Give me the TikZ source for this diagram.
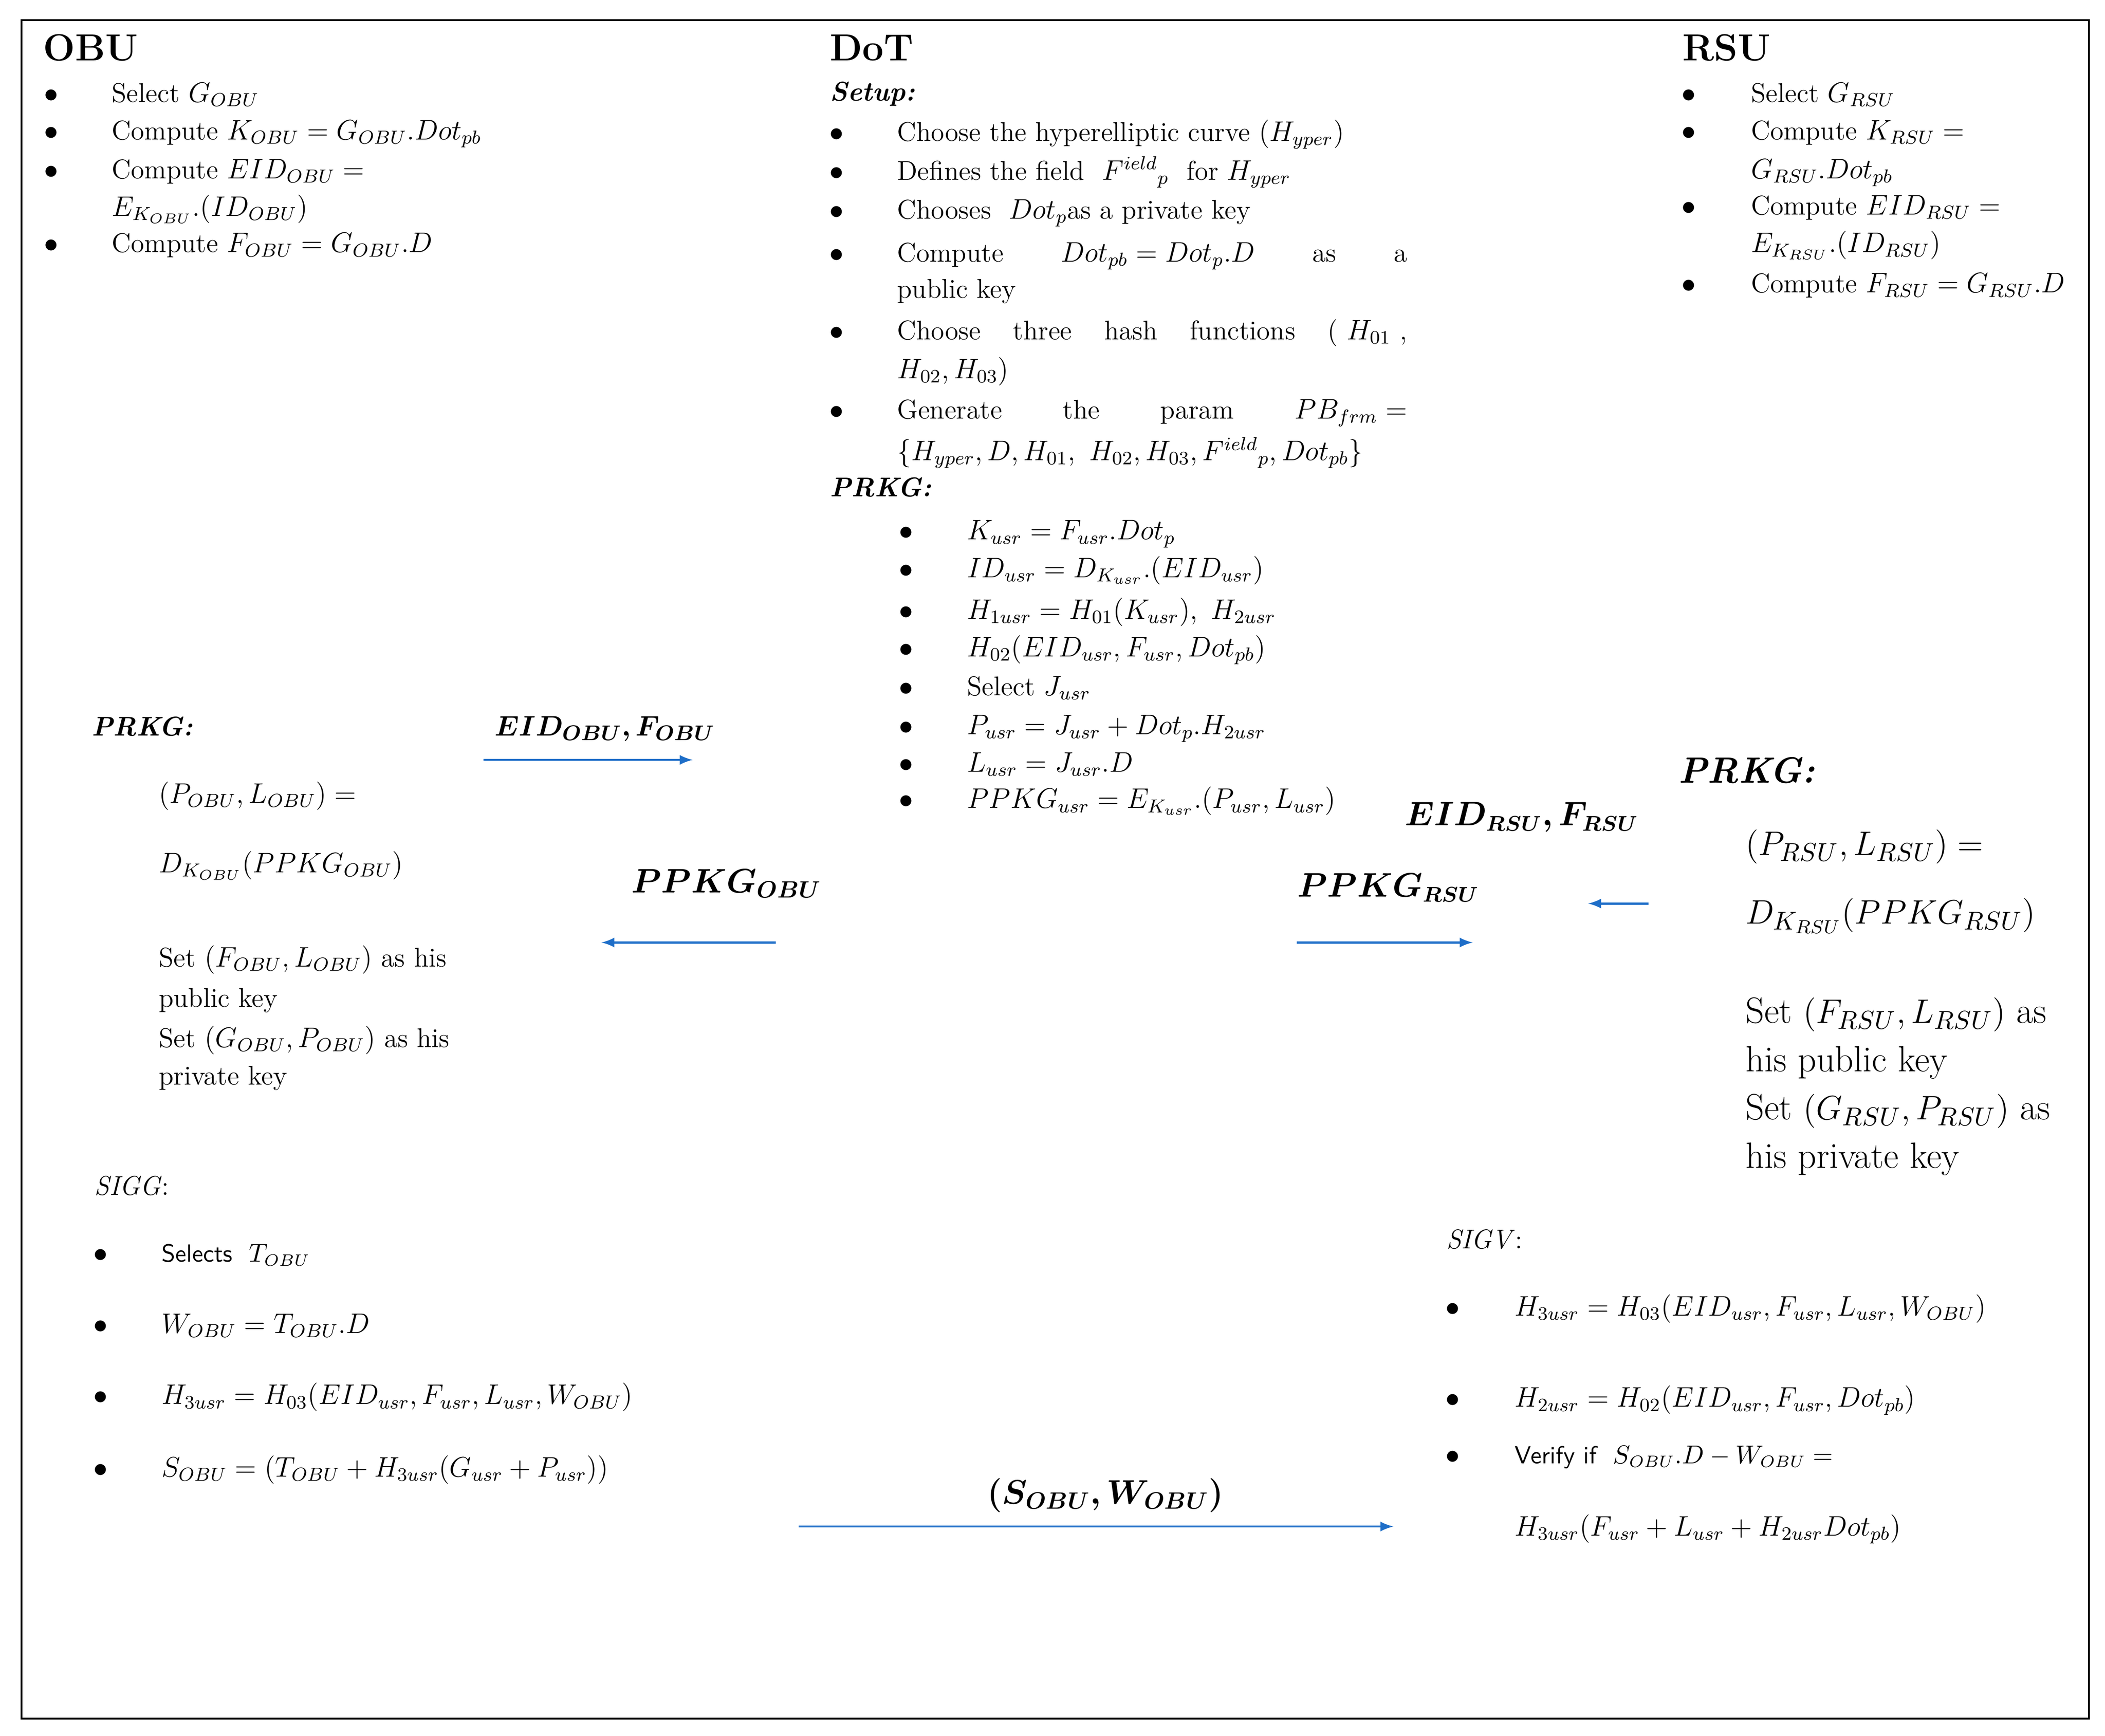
\documentclass[tikz,border=0pt]{standalone}
\usepackage{amsmath,bm}
\begin{document}
\begin{tikzpicture}[x=0.02cm,y=-0.02cm,
 t/.style={anchor=base west,inner sep=0,font=\fontsize{11.5}{14}\selectfont},
 big/.style={anchor=base west,inner sep=0,font=\fontsize{15.5}{18}\selectfont},
 hd/.style={anchor=base west,inner sep=0,font=\fontsize{16}{18}\selectfont\bfseries},
 bul/.style={anchor=base,inner sep=0,font=\fontsize{11.5}{14}\selectfont},
 arr/.style={->,>=latex,draw={rgb,255:red,30;green,110;blue,200},line width=0.9pt}]
\draw[line width=0.8pt] (16,15) rectangle (1556,1280);
\useasboundingbox (0,0) rectangle (1568,1293);
\newcommand\B[2]{\node[bul] at (#1,#2) {$\bullet$};}
% OBU
\node[hd] (obu) at (32,45) {OBU};
\B{38}{76}\node[t] (o1) at (83,76) {Select $G_{OBU}$};
\B{38}{104}\node[t] (o2) at (83,104) {Compute $K_{OBU}=G_{OBU}.Dot_{pb}$};
\B{38}{133}\node[t] (o3) at (83,133) {Compute $EID_{OBU}=$};
\node[t] (o4) at (83,161) {$E_{K_{OBU}}.(ID_{OBU})$};
\B{38}{188}\node[t] (o5) at (83,188) {Compute $F_{OBU}=G_{OBU}.D$};
% DoT
\node[hd] (dot) at (618,45) {DoT};
\node[t] (setup) at (618,75) {\textbf{\textit{Setup:}}};
\B{623}{105}\node[t] at (668,105) {Choose the hyperelliptic curve $(H_{yper})$};
\B{623}{134}\node[t] at (668,134) {Defines the field \ $F^{ield}{}_p$ \ for $H_{yper}$};
\B{623}{163}\node[t] at (668,163) {Chooses \ $Dot_p$as a private key};
\B{623}{195}\node[t] at (668,195) {\makebox[7.6cm][s]{Compute \hfill $Dot_{pb}=Dot_p.D$ \hfill as \hfill a}};
\node[t] at (668,222) {public key};
\B{623}{253}\node[t] at (668,253) {\makebox[7.6cm][s]{Choose \hfill three \hfill hash \hfill functions \hfill ( $H_{01}$ ,}};
\node[t] at (668,282) {$H_{02},H_{03})$};
\B{623}{312}\node[t] at (668,312) {\makebox[7.6cm][s]{Generate \hfill the \hfill param \hfill $PB_{frm}=$}};
\node[t] at (668,343) {$\{H_{yper},D,H_{01},\ H_{02},H_{03},F^{ield}{}_p,Dot_{pb}\}$};
\node[t] (prkg) at (618,370) {\textbf{\textit{PRKG:}}};
\B{675}{402}\node[t] at (720,402) {$K_{usr}=F_{usr}.Dot_p$};
\B{675}{430}\node[t] at (720,430) {$ID_{usr}=D_{K_{usr}}.(EID_{usr})$};
\B{675}{461}\node[t] at (720,461) {$H_{1usr}=H_{01}(K_{usr}),\ H_{2usr}$};
\B{675}{489}\node[t] at (720,489) {$H_{02}(EID_{usr},F_{usr},Dot_{pb})$};
\B{675}{518}\node[t] at (720,518) {Select $J_{usr}$};
\B{675}{547}\node[t] at (720,547) {$P_{usr}=J_{usr}+Dot_p.H_{2usr}$};
\B{675}{575}\node[t] at (720,575) {$L_{usr}=J_{usr}.D$};
\B{675}{602}\node[t] at (720,602) {$PPKG_{usr}=E_{K_{usr}}.(P_{usr},L_{usr})$};
% RSU
\node[hd] (rsu) at (1253,45) {RSU};
\B{1258}{76}\node[t] at (1304,76) {Select $G_{RSU}$};
\B{1258}{104}\node[t] at (1304,104) {Compute $K_{RSU}=$};
\node[t] at (1304,133) {$G_{RSU}.Dot_{pb}$};
\B{1258}{160}\node[t] at (1304,160) {Compute $EID_{RSU}=$};
\node[t] at (1304,188) {$E_{K_{RSU}}.(ID_{RSU})$};
\B{1258}{218}\node[t] at (1304,218) {Compute $F_{RSU}=G_{RSU}.D$};
% left PRKG
\node[t] (lp) at (68,548) {\textbf{\textit{PRKG:}}};
\node[t] at (118,598) {$(P_{OBU},L_{OBU})=$};
\node[t] at (118,650) {$D_{K_{OBU}}(PPKG_{OBU})$};
\node[t] at (118,720) {Set $(F_{OBU},L_{OBU})$ as his};
\node[t] at (118,750) {public key};
\node[t] at (118,780) {Set $(G_{OBU},P_{OBU})$ as his};
\node[t] at (118,808) {private key};
% right PRKG
\node[big] (rp) at (1250,583) {\textbf{\textit{PRKG:}}};
\node[big] at (1300,637) {$(P_{RSU},L_{RSU})=$};
\node[big] at (1300,688) {$D_{K_{RSU}}(PPKG_{RSU})$};
\node[big] at (1300,762) {Set $(F_{RSU},L_{RSU})$ as};
\node[big] at (1300,798) {his public key};
\node[big] at (1300,834) {Set $(G_{RSU},P_{RSU})$ as};
\node[big] at (1300,870) {his private key};
% arrows
\node[t,font=\fontsize{12.5}{15}\selectfont] (l1) at (368,548) {$\bm{EID_{OBU},F_{OBU}}$};
\coordinate (a1) at (360,566); \coordinate (b1) at (516,566);
\draw[arr] (a1) -- (b1);
\node[t,font=\fontsize{14}{16}\selectfont] (l2) at (470,665) {$\bm{PPKG_{OBU}}$};
\coordinate (a2) at (578,702); \coordinate (b2) at (448,702);
\draw[arr] (a2) -- (b2);
\node[t,font=\fontsize{13.5}{16}\selectfont] (l3) at (966,668) {$\bm{PPKG_{RSU}}$};
\coordinate (a3) at (966,702); \coordinate (b3) at (1097,702);
\draw[arr] (a3) -- (b3);
\node[t,font=\fontsize{13.5}{16}\selectfont] (l4) at (1046,615) {$\bm{EID_{RSU},F_{RSU}}$};
\coordinate (a4) at (1228,673); \coordinate (b4) at (1183,673);
\draw[arr] (a4) -- (b4);
\node[t,font=\fontsize{14}{16}\selectfont] (l5) at (735,1120) {$\bm{(S_{OBU},W_{OBU})}$};
\coordinate (a5) at (595,1137); \coordinate (b5) at (1038,1137);
\draw[arr] (a5) -- (b5);
% SIGG
\node[t] (sg) at (70,890) {\textit{SIGG}:};
\B{75}{940}\node[t] at (120,940) {\sffamily\fontsize{10.5}{12}\selectfont Selects \ $T_{OBU}$};
\B{75}{993}\node[t] at (120,993) {$W_{OBU}=T_{OBU}.D$};
\B{75}{1046}\node[t] at (120,1046) {$H_{3usr}=H_{03}(EID_{usr},F_{usr},L_{usr},W_{OBU})$};
\B{75}{1100}\node[t] at (120,1100) {$S_{OBU}=(T_{OBU}+H_{3usr}(G_{usr}+P_{usr}))$};
% SIGV
\node[t] (sv) at (1077,930) {\textit{SIGV}:};
\B{1082}{980}\node[t] at (1128,980) {$H_{3usr}=H_{03}(EID_{usr},F_{usr},L_{usr},W_{OBU})$};
\B{1082}{1048}\node[t] at (1128,1048) {$H_{2usr}=H_{02}(EID_{usr},F_{usr},Dot_{pb})$};
\B{1082}{1090}\node[t] at (1128,1090) {\sffamily\fontsize{10.5}{12}\selectfont Verify if \ $S_{OBU}.D-W_{OBU}=$};
\node[t] at (1128,1144) {$H_{3usr}(F_{usr}+L_{usr}+H_{2usr}Dot_{pb})$};
\end{tikzpicture}
\end{document}
